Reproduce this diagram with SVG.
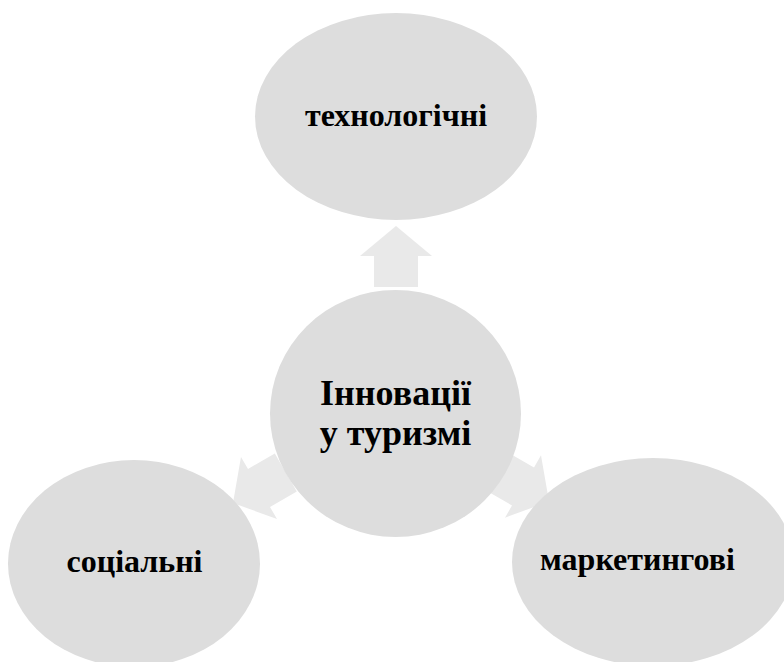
<svg xmlns="http://www.w3.org/2000/svg" width="784" height="662" viewBox="0 0 784 662">
<style>
.node{fill:#dddddd;}
.arrow{fill:#e9e9e9;}
.lbl{font-family:"Liberation Serif","Times New Roman",serif;font-weight:bold;fill:#000;text-anchor:middle;}
</style>
<rect width="784" height="662" fill="#ffffff"/>
<g id="connectors">
<polygon class="arrow" points="396,226 432,256 418,256 418,287 374,287 374,256 360,256"/>
<polygon class="arrow" points="233,503 277,519 270,507 296.8,491.5 274.8,453.5 248,469 241,457"/>
<polygon class="arrow" points="549,501.5 505,517.7 512,505.5 485.2,490 507.2,452 534,467.5 541,455.3"/>
</g>
<g id="node-top">
<ellipse class="node" cx="396" cy="116.5" rx="141" ry="103.5"/>
<text class="lbl" x="396" y="126" font-size="32">технологічні</text>
</g>
<g id="node-center">
<ellipse class="node" cx="395.5" cy="413.5" rx="125.5" ry="123.5"/>
<text class="lbl" x="395.5" y="405" font-size="36">Інновації</text>
<text class="lbl" x="395.5" y="445" font-size="36">у туризмі</text>
</g>
<g id="node-left">
<ellipse class="node" cx="134" cy="563.5" rx="126" ry="103.5"/>
<text class="lbl" x="134.5" y="572" font-size="32">соціальні</text>
</g>
<g id="node-right">
<ellipse class="node" cx="653" cy="562" rx="141" ry="104"/>
<text class="lbl" x="637.5" y="570" font-size="32">маркетингові</text>
</g>
</svg>
